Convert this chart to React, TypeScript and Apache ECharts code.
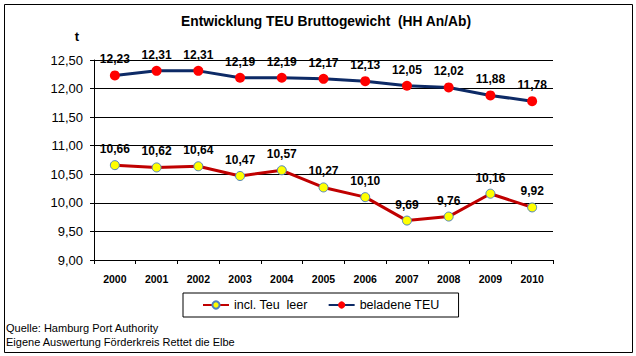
import React, { useEffect, useRef } from "react";
import * as echarts from "echarts";

const years = ["2000", "2001", "2002", "2003", "2004", "2005", "2006", "2007", "2008", "2009", "2010"];
const inclLeer = [10.66, 10.62, 10.64, 10.47, 10.57, 10.27, 10.1, 9.69, 9.76, 10.16, 9.92];
const beladen = [12.23, 12.31, 12.31, 12.19, 12.19, 12.17, 12.13, 12.05, 12.02, 11.88, 11.78];
const seriesNames = ["incl. Teu  leer", "beladene TEU"];
const titleText = "Entwicklung TEU Bruttogewicht  (HH An/Ab)";
const sourceLines = ["Quelle: Hamburg Port Authority", "Eigene Auswertung Förderkreis Rettet die Elbe"];

const FONT = "'Liberation Sans', Arial, sans-serif";
const fmt = (v: number) => v.toFixed(2).replace(".", ",");

export default function App() {
  const ref = useRef<HTMLDivElement>(null);
  useEffect(() => {
    if (!ref.current) return;
    const chart = echarts.init(ref.current, undefined, { renderer: "svg" });
    const labelStyle = {
      show: true,
      position: "top" as const,
      fontFamily: FONT,
      fontSize: 12,
      fontWeight: "bold" as const,
      color: "#000",
      formatter: (p: any) => fmt(p.value),
    };
    chart.setOption({
      animation: false,
      backgroundColor: "#fff",
      textStyle: { fontFamily: FONT },
      title: {
        text: titleText,
        left: 321,
        textAlign: "center",
        top: 9,
        textStyle: { fontFamily: FONT, fontSize: 13.8, fontWeight: "bold", color: "#000" },
      },
      legend: {
        left: 183,
        top: 293,
        padding: [5, 19, 5, 19],
        borderColor: "#000",
        borderWidth: 1,
        itemWidth: 26,
        itemHeight: 9,
        itemGap: 20,
        data: seriesNames,
        textStyle: { fontFamily: FONT, fontSize: 12.5, color: "#000", lineHeight: 14 },
      },
      grid: { left: 94, right: 83, top: 60, bottom: 96 },
      xAxis: {
        type: "category",
        data: years,
        boundaryGap: true,
        axisLine: { show: true, lineStyle: { color: "#000", width: 1 } },
        axisTick: { show: true, length: 4, inside: false, lineStyle: { color: "#000" } },
        axisLabel: { fontFamily: FONT, fontSize: 10.5, fontWeight: "bold", color: "#000", margin: 13 },
      },
      yAxis: {
        type: "value",
        min: 9,
        max: 12.5,
        interval: 0.5,
        axisLine: { show: true, lineStyle: { color: "#000", width: 1 } },
        axisTick: { show: true, length: 4, lineStyle: { color: "#000" } },
        axisLabel: {
          fontFamily: FONT,
          fontSize: 13,
          color: "#000",
          margin: 11,
          formatter: (v: number) => fmt(v),
        },
        splitLine: { show: true, lineStyle: { color: "#000", width: 1 } },
      },
      series: [
        {
          name: seriesNames[0],
          type: "line",
          data: inclLeer,
          symbol: "circle",
          symbolSize: 9,
          lineStyle: { color: "#C00000", width: 3 },
          itemStyle: { color: "#FFFF00", borderColor: "#4F81BD", borderWidth: 1 },
          label: labelStyle,
        },
        {
          name: seriesNames[1],
          type: "line",
          data: beladen,
          symbol: "circle",
          symbolSize: 10,
          lineStyle: { color: "#0D2A66", width: 3 },
          itemStyle: { color: "#FF0000", borderColor: "#FF0000", borderWidth: 0 },
          label: labelStyle,
        },
      ],
      graphic: [
        {
          type: "rect",
          shape: { x: 4.5, y: 4.5, width: 628, height: 348 },
          style: { fill: "none", stroke: "#000", lineWidth: 1 },
          silent: true,
        },
        {
          type: "text",
          x: 77,
          y: 36,
          style: { text: "t", fontFamily: FONT, fontSize: 13, fontWeight: "bold", fill: "#000", textAlign: "center", textVerticalAlign: "middle" },
        },
        {
          type: "text",
          x: 6,
          y: 328,
          style: { text: sourceLines[0], fontFamily: FONT, fontSize: 11, fill: "#000", textVerticalAlign: "middle" },
        },
        {
          type: "text",
          x: 6,
          y: 342,
          style: { text: sourceLines[1], fontFamily: FONT, fontSize: 11, fill: "#000", textVerticalAlign: "middle" },
        },
      ],
    });
    return () => chart.dispose();
  }, []);
  return <div ref={ref} style={{ position: "fixed", left: 0, top: 0, width: 636, height: 356 }} />;
}
